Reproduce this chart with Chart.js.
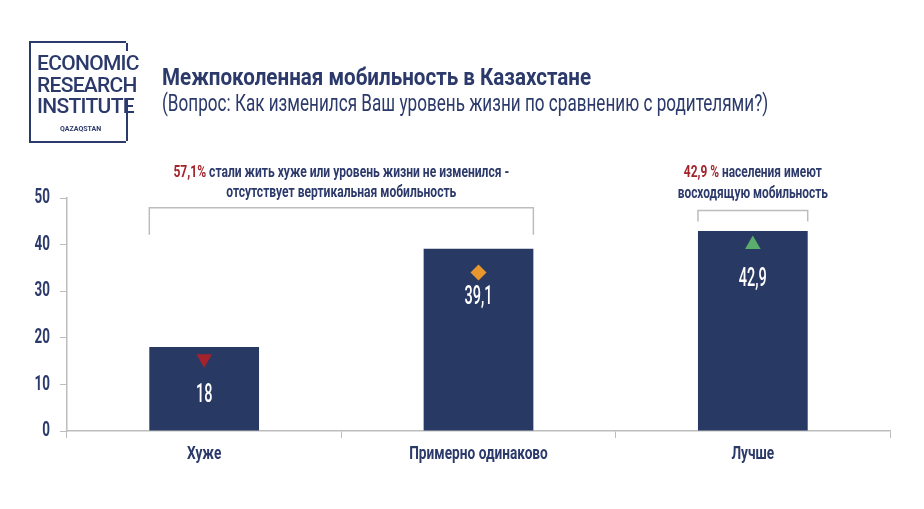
<!DOCTYPE html>
<html>
<head>
<meta charset="utf-8">
<script src="https://cdn.jsdelivr.net/npm/chart.js@4/dist/chart.umd.min.js"></script>
<style>
  html, body { margin: 0; padding: 0; background: #fff; }
  #wrap { position: relative; width: 924px; height: 509px; overflow: hidden; }
  #c { position: absolute; left: 0; top: 0; }
  #logo { position: absolute; left: 29px; top: 41px; width: 95px; height: 98px;
          border-left: 2px solid #2c3a6b; border-top: 2px solid #2c3a6b; border-bottom: 2px solid #2c3a6b; }
  .rb { position: absolute; width: 2px; background: #2c3a6b; left: 95px; }
  .lt { position: absolute; left: 6px; color: #2c3a6b; font-family: 'Roboto', sans-serif;
        font-weight: 500; font-size: 21px; letter-spacing: -0.7px; line-height: 22px; white-space: nowrap; }
  .sq { position: absolute; white-space: nowrap; color: #2c3a6b; font-family: 'Roboto', sans-serif;
        transform-origin: 0 50%; }
  #title { left: 162px; top: 63px; font-weight: bold; font-size: 24px; }
  #sub { left: 162px; top: 90px; font-size: 23px; }
</style>
</head>
<body>
<div id="wrap">
  <canvas id="c" width="924" height="509"></canvas>
  <div id="logo">
    <div class="rb" style="top:0;height:8px"></div>
    <div class="rb" style="top:56px;height:42px"></div>
    <div class="lt" style="top:9px">ECONOMIC</div>
    <div class="lt" style="top:31px">RESEARCH</div>
    <div class="lt" style="top:52px">INSTITUTE</div>
    <div class="lt" style="top:82px;left:29px;font-size:7px;font-weight:bold;letter-spacing:0;line-height:8px">QAZAQSTAN</div>
  </div>
  <div id="title" class="sq" data-w="429">Межпоколенная мобильность в Казахстане</div>
  <div id="sub" class="sq" data-w="606">(Вопрос: Как изменился Ваш уровень жизни по сравнению с родителями?)</div>
</div>
<script>
// chart data
const categories = ["Хуже", "Примерно одинаково", "Лучше"];
const shares = [18, 39.1, 42.9];
const shareLabels = ["18", "39,1", "42,9"];
const markerValues = [15.5, 34, 40];
const yTicks = [0, 10, 20, 30, 40, 50];

const NAVY = "#2c3a6b";
const BAR = "#283a64";
const RED = "#a3232b";
const FONT = "Roboto, sans-serif";

// squeeze the html headings to the narrow width of the original typeface
document.querySelectorAll(".sq").forEach(el => {
  const k = +el.dataset.w / el.offsetWidth;
  el.style.transform = "scaleX(" + k + ")";
});

// draws text squeezed horizontally (the original uses a condensed face)
function narrowText(ctx, text, x, y, font, color, align, sx) {
  ctx.save();
  ctx.font = font;
  ctx.fillStyle = color;
  ctx.textAlign = align;
  ctx.textBaseline = "middle";
  ctx.translate(x, y);
  ctx.scale(sx, 1);
  ctx.fillText(text, 0, 0);
  ctx.restore();
}

const extras = {
  id: "extras",
  afterDraw(chart) {
    const ctx = chart.ctx;
    const bars = chart.getDatasetMeta(0).data;
    const x = chart.scales.x;
    const y = chart.scales.y;

    // axis labels
    yTicks.forEach(v => {
      narrowText(ctx, String(v), 50, y.getPixelForValue(v), "bold 21px " + FONT, NAVY, "right", 0.64);
    });
    categories.forEach((c, i) => {
      narrowText(ctx, c, x.getPixelForValue(i), 454, "bold 19px " + FONT, NAVY, "center", 0.72);
    });

    // values inside bars
    bars.forEach((b, i) => {
      narrowText(ctx, shareLabels[i], b.x, b.y + 49, "500 25px " + FONT, "#fff", "center", 0.58);
    });

    // brackets
    ctx.save();
    ctx.strokeStyle = "#bdbdbd";
    ctx.lineWidth = 1.5;
    const half = bars[0].width / 2;
    function bracket(x1, x2, top, drop) {
      ctx.beginPath();
      ctx.moveTo(x1, top + drop);
      ctx.lineTo(x1, top);
      ctx.lineTo(x2, top);
      ctx.lineTo(x2, top + drop);
      ctx.stroke();
    }
    bracket(bars[0].x - half, bars[1].x + half, y.getPixelForValue(47.9), 27);
    bracket(bars[2].x - half, bars[2].x + half, y.getPixelForValue(47.3), 11);
    ctx.restore();

    // notes above the brackets: red lead-in + navy rest, squeezed together
    function note(cx, yy, red, rest, sx) {
      const font = "bold 17px " + FONT;
      ctx.save();
      ctx.font = font;
      const w1 = ctx.measureText(red).width * sx;
      const w2 = ctx.measureText(rest).width * sx;
      ctx.restore();
      const x0 = cx - (w1 + w2) / 2;
      if (red) narrowText(ctx, red, x0, yy, font, RED, "left", sx);
      narrowText(ctx, rest, x0 + w1, yy, font, NAVY, "left", sx);
    }
    const mid = (bars[0].x + bars[1].x) / 2;
    note(mid, 173, "57,1%", " стали жить хуже или уровень жизни не изменился -", 0.71);
    note(mid, 193, "", "отсутствует вертикальная мобильность", 0.71);
    note(bars[2].x, 173, "42,9 %", " населения имеют", 0.7);
    note(bars[2].x, 194, "", "восходящую мобильность", 0.7);
  }
};

new Chart(document.getElementById("c"), {
  data: {
    labels: categories,
    datasets: [
      {
        type: "bar",
        data: shares,
        backgroundColor: BAR,
        categoryPercentage: 0.4,
        barPercentage: 1,
        order: 2
      },
      {
        type: "line",
        data: markerValues,
        showLine: false,
        pointStyle: ["triangle", "rectRot", "triangle"],
        rotation: [180, 0, 0],
        pointRadius: [9, 8, 9],
        pointBackgroundColor: ["#a4222c", "#e8962e", "#5aad6a"],
        pointBorderWidth: 0,
        order: 1
      }
    ]
  },
  options: {
    responsive: false,
    animation: false,
    events: [],
    layout: { padding: { top: 198, right: 34, left: 0, bottom: 0 } },
    plugins: { legend: { display: false }, tooltip: { enabled: false } },
    scales: {
      x: {
        offset: true,
        grid: { offset: true, drawOnChartArea: false, color: "#bdbdbd", tickLength: 7 },
        border: { color: "#bdbdbd", width: 1.5 },
        ticks: { display: false },
        afterFit(s) { s.height = 78; }
      },
      y: {
        min: 0, max: 50,
        afterBuildTicks(s) { s.ticks = yTicks.map(v => ({ value: v })); },
        grid: { drawOnChartArea: false, color: "#bdbdbd", tickLength: 7 },
        border: { color: "#bdbdbd", width: 1.5 },
        ticks: { display: false },
        afterFit(s) { s.width = 67; }
      }
    }
  },
  plugins: [extras]
});
</script>
</body>
</html>
